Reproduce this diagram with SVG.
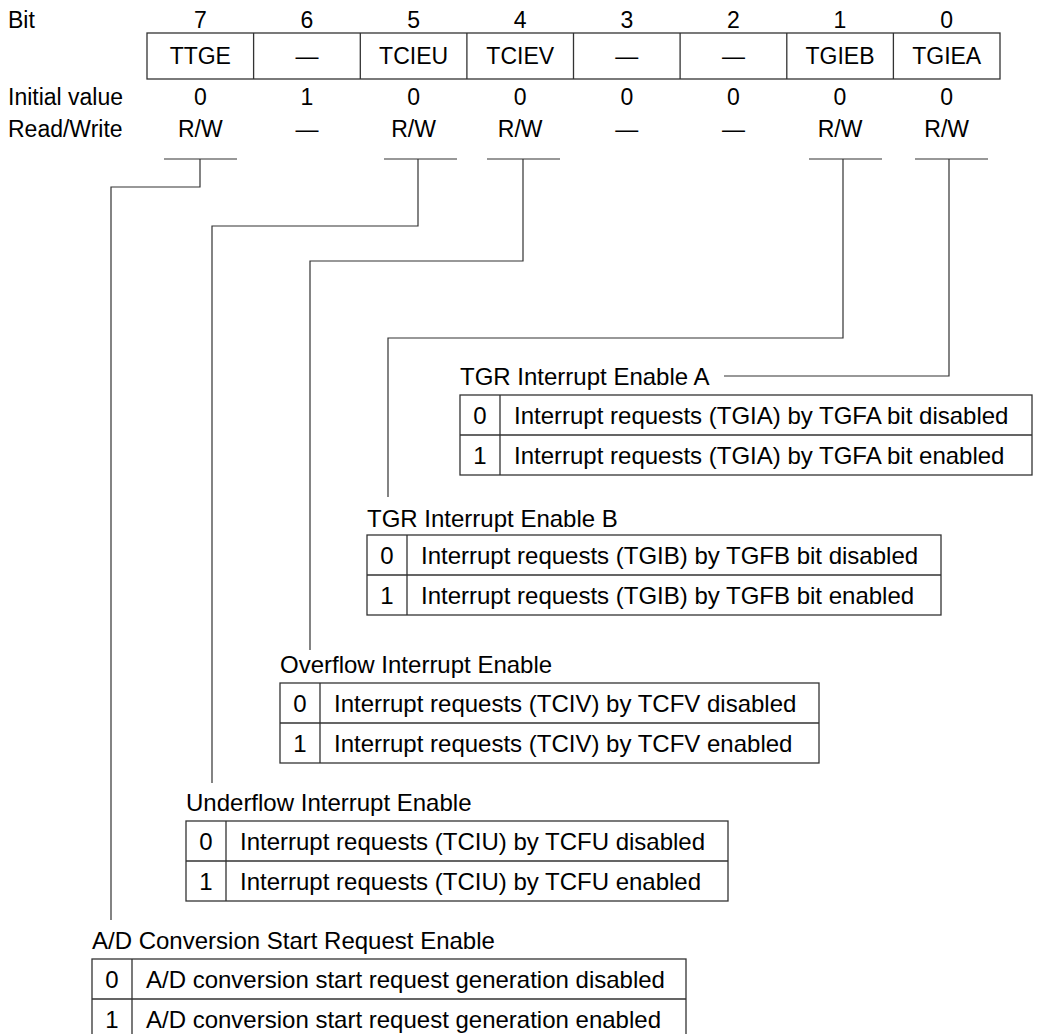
<svg xmlns="http://www.w3.org/2000/svg" width="1038" height="1034" viewBox="0 0 1038 1034">
<style>
text{font-family:"Liberation Sans",Arial,sans-serif;fill:#000}
.t{font-size:23px}
.tb{font-size:24px}
.c{text-anchor:middle}
.box{fill:none;stroke:#333;stroke-width:1.3}
.ln{fill:none;stroke:#333;stroke-width:1.2}
</style>
<rect width="1038" height="1034" fill="#fff"/>
<g id="register">
<text class="t" x="8" y="28">Bit</text>
<text class="t c" x="200.3" y="28">7</text>
<text class="t c" x="307" y="28">6</text>
<text class="t c" x="413.6" y="28">5</text>
<text class="t c" x="520.2" y="28">4</text>
<text class="t c" x="626.8" y="28">3</text>
<text class="t c" x="733.4" y="28">2</text>
<text class="t c" x="840" y="28">1</text>
<text class="t c" x="946.7" y="28">0</text>
<rect class="box" x="147" y="33" width="853" height="46"/>
<path class="box" d="M253.6,33V79M360.3,33V79M466.9,33V79M573.5,33V79M680.1,33V79M786.8,33V79M893.4,33V79"/>
<text class="t c" x="200.3" y="64">TTGE</text>
<text class="t c" x="307" y="64">—</text>
<text class="t c" x="413.6" y="64">TCIEU</text>
<text class="t c" x="520.2" y="64">TCIEV</text>
<text class="t c" x="626.8" y="64">—</text>
<text class="t c" x="733.4" y="64">—</text>
<text class="t c" x="840" y="64">TGIEB</text>
<text class="t c" x="946.7" y="64">TGIEA</text>
<text class="t" x="8" y="105">Initial value</text>
<text class="t c" x="200.3" y="105">0</text>
<text class="t c" x="307" y="105">1</text>
<text class="t c" x="413.6" y="105">0</text>
<text class="t c" x="520.2" y="105">0</text>
<text class="t c" x="626.8" y="105">0</text>
<text class="t c" x="733.4" y="105">0</text>
<text class="t c" x="840" y="105">0</text>
<text class="t c" x="946.7" y="105">0</text>
<text class="t" x="8" y="137">Read/Write</text>
<text class="t c" x="200.3" y="137">R/W</text>
<text class="t c" x="307" y="137">—</text>
<text class="t c" x="413.6" y="137">R/W</text>
<text class="t c" x="520.2" y="137">R/W</text>
<text class="t c" x="626.8" y="137">—</text>
<text class="t c" x="733.4" y="137">—</text>
<text class="t c" x="840" y="137">R/W</text>
<text class="t c" x="946.7" y="137">R/W</text>
<path class="ln" d="M164,159H237M384,159H457M487,159H560M809,159H882M915,159H988"/>
</g>
<g id="connectors">
<path class="ln" d="M200,159V187H111V920"/>
<path class="ln" d="M418,159V226H212V783"/>
<path class="ln" d="M523,159V261H310V650"/>
<path class="ln" d="M843,159V338H388V497"/>
<path class="ln" d="M949,159V376H724"/>
</g>
<g id="tgiea">
<text class="tb" x="460" y="385">TGR Interrupt Enable A</text>
<rect class="box" x="460" y="395" width="572" height="80"/>
<path class="box" d="M460,435H1032M500,395V475"/>
<text class="tb c" x="480" y="424">0</text>
<text class="tb" x="514" y="424">Interrupt requests (TGIA) by TGFA bit disabled</text>
<text class="tb c" x="480" y="464">1</text>
<text class="tb" x="514" y="464">Interrupt requests (TGIA) by TGFA bit enabled</text>
</g>
<g id="tgieb">
<text class="tb" x="367" y="527">TGR Interrupt Enable B</text>
<rect class="box" x="367" y="535" width="574" height="80"/>
<path class="box" d="M367,575H941M407,535V615"/>
<text class="tb c" x="387" y="564">0</text>
<text class="tb" x="421" y="564">Interrupt requests (TGIB) by TGFB bit disabled</text>
<text class="tb c" x="387" y="604">1</text>
<text class="tb" x="421" y="604">Interrupt requests (TGIB) by TGFB bit enabled</text>
</g>
<g id="tciev">
<text class="tb" x="280" y="673">Overflow Interrupt Enable</text>
<rect class="box" x="280" y="683" width="539" height="80"/>
<path class="box" d="M280,723H819M320,683V763"/>
<text class="tb c" x="300" y="712">0</text>
<text class="tb" x="334" y="712">Interrupt requests (TCIV) by TCFV disabled</text>
<text class="tb c" x="300" y="752">1</text>
<text class="tb" x="334" y="752">Interrupt requests (TCIV) by TCFV enabled</text>
</g>
<g id="tcieu">
<text class="tb" x="186" y="811">Underflow Interrupt Enable</text>
<rect class="box" x="186" y="821" width="542" height="80"/>
<path class="box" d="M186,861H728M226,821V901"/>
<text class="tb c" x="206" y="850">0</text>
<text class="tb" x="240" y="850">Interrupt requests (TCIU) by TCFU disabled</text>
<text class="tb c" x="206" y="890">1</text>
<text class="tb" x="240" y="890">Interrupt requests (TCIU) by TCFU enabled</text>
</g>
<g id="ttge">
<text class="tb" x="92" y="949">A/D Conversion Start Request Enable</text>
<rect class="box" x="92" y="959" width="594" height="80"/>
<path class="box" d="M92,999H686M132,959V1039"/>
<text class="tb c" x="112" y="988">0</text>
<text class="tb" x="146" y="988">A/D conversion start request generation disabled</text>
<text class="tb c" x="112" y="1028">1</text>
<text class="tb" x="146" y="1028">A/D conversion start request generation enabled</text>
</g>
</svg>
